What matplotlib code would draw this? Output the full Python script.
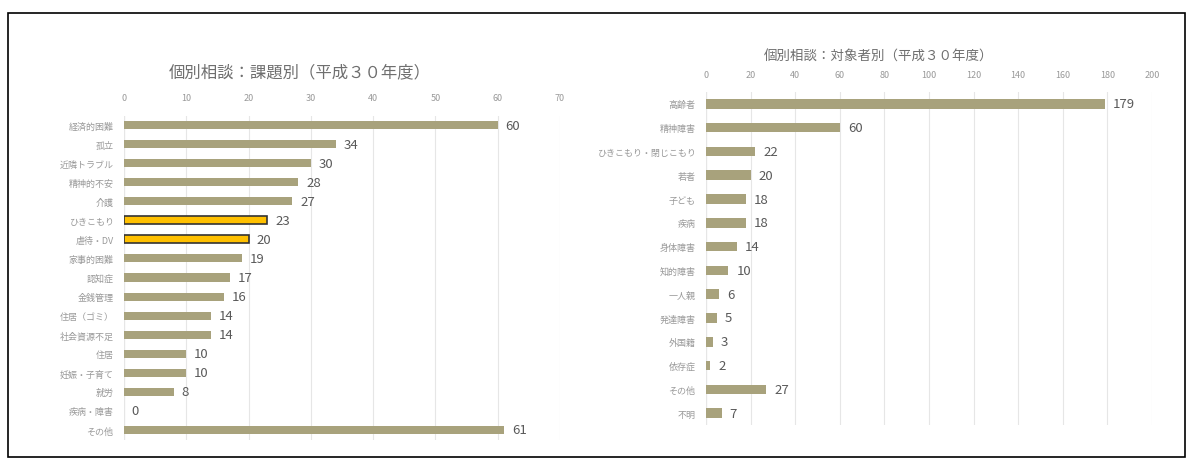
import matplotlib
matplotlib.use("Agg")
import matplotlib.pyplot as plt
from matplotlib.patches import Rectangle

plt.rcParams['font.family'] = ['Noto Sans CJK JP', 'DejaVu Sans']

# left chart: by issue
issues = ['経済的困難', '孤立', '近隣トラブル', '精神的不安', '介護', 'ひきこもり', '虐待・DV',
          '家事的困難', '認知症', '金銭管理', '住居（ゴミ）', '社会資源不足', '住居',
          '妊娠・子育て', '就労', '疾病・障害', 'その他']
issue_counts = [60, 34, 30, 28, 27, 23, 20, 19, 17, 16, 14, 14, 10, 10, 8, 0, 61]
highlight = ['ひきこもり', '虐待・DV']

# right chart: by target person
targets = ['高齢者', '精神障害', 'ひきこもり・閉じこもり', '若者', '子ども', '疾病', '身体障害',
           '知的障害', '一人親', '発達障害', '外国籍', '依存症', 'その他', '不明']
target_counts = [179, 60, 22, 20, 18, 18, 14, 10, 6, 5, 3, 2, 27, 7]

BAR = '#a8a27c'
HI = '#ffc000'
TXT = '#595959'
TICK = '#999999'

fig = plt.figure(figsize=(11.93, 4.64), dpi=100)
fig.patches.append(Rectangle((8/1193, 1-458/464), 1177/1193, 444/464,
                             transform=fig.transFigure, fill=False, ec='black', lw=1.2))


def hbar(ax, labels, vals, xmax, step, bh, hl=()):
    y = list(range(len(labels)))
    cols = [HI if l in hl else BAR for l in labels]
    ecs = ['#333333' if l in hl else 'none' for l in labels]
    ax.barh(y, vals, height=bh, color=cols, edgecolor=ecs, linewidth=1.2, zorder=3)
    for yi, v in zip(y, vals):
        ax.text(v + xmax * 0.018, yi, str(v), va='center', ha='left', fontsize=9.5, color=TXT)
    ax.set_xlim(0, xmax)
    ax.set_ylim(len(labels) - 0.5, -0.5)
    ax.set_yticks(y)
    ax.set_yticklabels(labels, fontsize=6.5, color=TICK)
    ax.set_xticks(range(0, xmax + 1, step))
    ax.tick_params(axis='x', labeltop=True, labelbottom=False, top=False, bottom=False,
                   labelsize=6.5, labelcolor=TICK, pad=6)
    ax.tick_params(axis='y', left=False, pad=4)
    ax.grid(axis='x', color='#e6e6e6', lw=0.8, zorder=0)
    for s in ax.spines.values():
        s.set_visible(False)
    ax.axvline(0, color='#d9d9d9', lw=0.8, zorder=1)


ax1 = fig.add_axes([124/1193, 1-440.5/464, 436/1193, 324/464])
hbar(ax1, issues, issue_counts, 70, 10, 0.42, highlight)
fig.text(300/1193, 1-73/464, '個別相談：課題別（平成３０年度）', ha='center', va='center',
         fontsize=11.8, color='#6f6f6f')

ax2 = fig.add_axes([706/1193, 1-426/464, 446/1193, 333/464])
hbar(ax2, targets, target_counts, 200, 20, 0.4)
fig.text(879/1193, 1-57/464, '個別相談：対象者別（平成３０年度）', ha='center', va='center',
         fontsize=9.7, color='#6f6f6f')

fig.savefig('out.png', dpi=100)
